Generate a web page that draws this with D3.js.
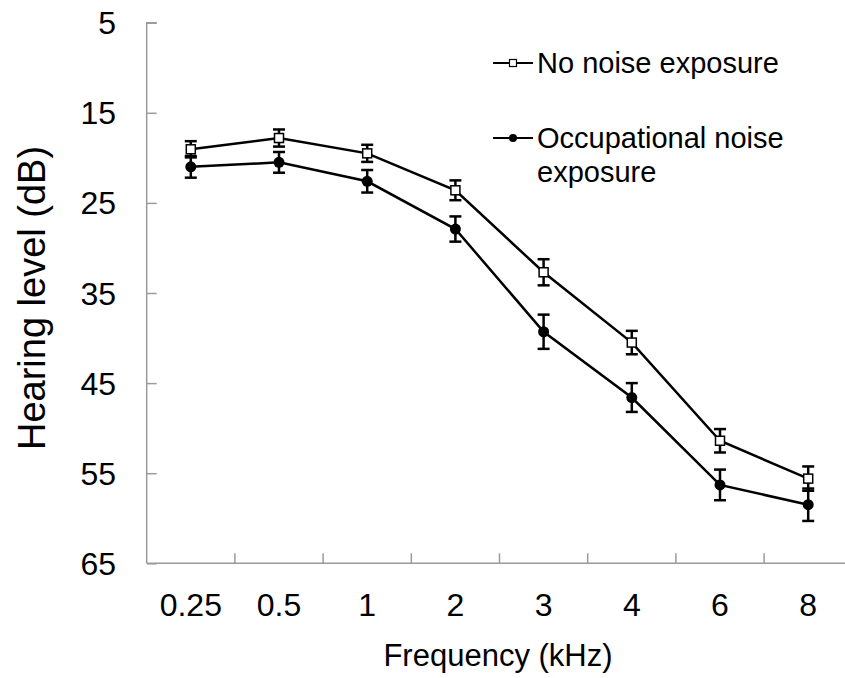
<!DOCTYPE html>
<html>
<head>
<meta charset="utf-8">
<script src="https://cdn.jsdelivr.net/npm/d3@7"></script>
<style>
  body { margin: 0; background: #fff; }
  text { font-family: "Liberation Sans", Arial, sans-serif; fill: #000; }
</style>
</head>
<body>
<script>
const freqs = ["0.25", "0.5", "1", "2", "3", "4", "6", "8"];
const noExposure = [19.05, 17.8, 19.5, 23.6, 32.7, 40.5, 51.4, 55.6];
const noExposureErr = [0.9, 0.95, 0.95, 1.1, 1.45, 1.3, 1.3, 1.35];
const occupational = [21.0, 20.5, 22.6, 27.9, 39.3, 46.6, 56.3, 58.5];
const occupationalErr = [1.2, 1.15, 1.25, 1.4, 1.9, 1.6, 1.7, 1.8];
const yTicks = [5, 15, 25, 35, 45, 55, 65];

const width = 845, height = 678;
const x0 = 146.7, x1 = 852.3, yTop = 22.7, yBot = 563.3;

const svg = d3.select("body").append("svg")
  .attr("width", width)
  .attr("height", height);

const x = d3.scaleBand().domain(freqs).range([x0, x1]);
const y = d3.scaleLinear().domain([5, 65]).range([yTop, yBot]);
const axisColor = "#9a9a9a";

// y axis, ticks pointing inward
let yAxis = svg.append("g").attr("transform", `translate(${x0},0)`)
  .call(d3.axisRight(y).tickValues(yTicks).tickSize(10).tickFormat(""));
yAxis.select(".domain").attr("stroke", axisColor).attr("stroke-width", 1.5)
  .attr("d", `M10,${yTop}H0V${yBot}`);
yAxis.selectAll(".tick line").attr("stroke", axisColor).attr("stroke-width", 1.5);

svg.append("g").selectAll("text").data(yTicks).join("text")
  .attr("x", 116).attr("y", d => y(d))
  .attr("dy", "0.36em")
  .attr("text-anchor", "end")
  .style("font-size", "32px")
  .text(d => d);

// x axis, ticks between categories
let bounds = freqs.slice(1).map(f => x(f));
let xAxis = svg.append("g").attr("transform", `translate(0,${yBot})`);
xAxis.append("line").attr("x1", x0).attr("x2", x1).attr("y1", 0).attr("y2", 0)
  .attr("stroke", axisColor).attr("stroke-width", 1.5);
xAxis.selectAll(".tk").data(bounds).join("line").attr("class", "tk")
  .attr("x1", d => d).attr("x2", d => d).attr("y1", 0).attr("y2", -10)
  .attr("stroke", axisColor).attr("stroke-width", 1.5);
xAxis.selectAll("text").data(freqs).join("text")
  .attr("x", d => x(d) + x.bandwidth() / 2)
  .attr("y", 41).attr("dy", "0.36em")
  .attr("text-anchor", "middle")
  .style("font-size", "32px")
  .text(d => d);

svg.append("text")
  .attr("x", 498).attr("y", 666)
  .attr("text-anchor", "middle")
  .style("font-size", "31px")
  .text("Frequency (kHz)");

svg.append("text")
  .attr("transform", "translate(45,298) rotate(-90)")
  .attr("text-anchor", "middle")
  .style("font-size", "38px")
  .text("Hearing level (dB)");

const cx = d => x(d) + x.bandwidth() / 2;
const line = d3.line().x(d => cx(d.f)).y(d => y(d.v));

function drawSeries(vals, errs, kind) {
  let data = freqs.map((f, i) => ({ f, v: vals[i], e: errs[i] }));
  let g = svg.append("g");
  g.append("path").datum(data).attr("d", line)
    .attr("fill", "none").attr("stroke", "#000").attr("stroke-width", 2.5);
  let eb = g.selectAll(".eb").data(data).join("g").attr("class", "eb");
  eb.append("line")
    .attr("x1", d => cx(d.f)).attr("x2", d => cx(d.f))
    .attr("y1", d => y(d.v - d.e)).attr("y2", d => y(d.v + d.e));
  eb.append("line")
    .attr("x1", d => cx(d.f) - 6).attr("x2", d => cx(d.f) + 6)
    .attr("y1", d => y(d.v - d.e)).attr("y2", d => y(d.v - d.e));
  eb.append("line")
    .attr("x1", d => cx(d.f) - 6).attr("x2", d => cx(d.f) + 6)
    .attr("y1", d => y(d.v + d.e)).attr("y2", d => y(d.v + d.e));
  eb.selectAll("line").attr("stroke", "#000").attr("stroke-width", 2.5);
  if (kind === "square") {
    g.selectAll(".m").data(data).join("rect").attr("class", "m")
      .attr("x", d => cx(d.f) - 4.5).attr("y", d => y(d.v) - 4.5)
      .attr("width", 9).attr("height", 9)
      .attr("fill", "#fff").attr("stroke", "#000").attr("stroke-width", 1.5);
  } else {
    g.selectAll(".m").data(data).join("circle").attr("class", "m")
      .attr("cx", d => cx(d.f)).attr("cy", d => y(d.v)).attr("r", 5.5)
      .attr("fill", "#000");
  }
}

drawSeries(occupational, occupationalErr, "circle");
drawSeries(noExposure, noExposureErr, "square");

// legend
let lg = svg.append("g");
lg.append("line").attr("x1", 493).attr("x2", 533).attr("y1", 63).attr("y2", 63)
  .attr("stroke", "#000").attr("stroke-width", 2);
lg.append("rect").attr("x", 509.5).attr("y", 59.5).attr("width", 7).attr("height", 7)
  .attr("fill", "#fff").attr("stroke", "#000").attr("stroke-width", 1.2);
lg.append("text").attr("x", 537).attr("y", 63).attr("dy", "0.36em")
  .style("font-size", "29px").text("No noise exposure");
lg.append("line").attr("x1", 493).attr("x2", 533).attr("y1", 138).attr("y2", 138)
  .attr("stroke", "#000").attr("stroke-width", 2);
lg.append("circle").attr("cx", 513).attr("cy", 138).attr("r", 4).attr("fill", "#000");
lg.append("text").attr("x", 537).attr("y", 138).attr("dy", "0.36em")
  .style("font-size", "29px").text("Occupational noise");
lg.append("text").attr("x", 537).attr("y", 172).attr("dy", "0.36em")
  .style("font-size", "29px").text("exposure");
</script>
</body>
</html>
